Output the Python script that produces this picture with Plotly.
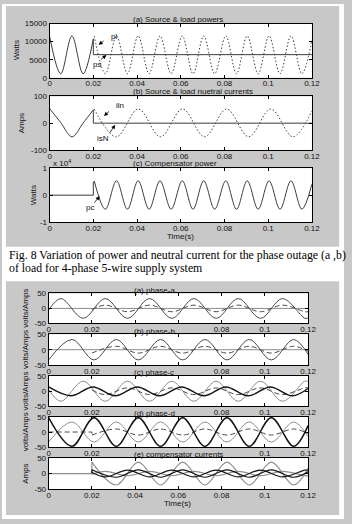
import plotly.graph_objects as go

W, H = 352, 524

# ---------------- shared ----------------
time_ticks = [0, 0.02, 0.04, 0.06, 0.08, 0.1, 0.12]
time_labels = ["0", "0.02", "0.04", "0.06", "0.08", "0.1", "0.12"]
# labels hidden under the next panel's title in the lower figure
time_labels_short = ["0", "0.02", "", "", "0.08", "0.1", "0.12"]
time_labels_shorter = ["0", "0.02", "", "", "", "0.1", "0.12"]

# ---------------- Fig. 8 data ----------------
# (a) source & load powers (Watts)
ps_t_before = [0.0, 0.0051, 0.0102, 0.0153, 0.0200]
ps_v_before = [11500, 1100, 11600, 1100, 10800]
ps_t_after = [0.0200, 0.0200, 0.1200]
ps_v_after = [10800, 6400, 6400]
pl_t = [0.0204, 0.0255, 0.0306, 0.0356, 0.0405, 0.0455, 0.0505, 0.0556, 0.0607, 0.0656,
        0.0705, 0.0755, 0.0806, 0.0855, 0.0904, 0.0954, 0.1004, 0.1054, 0.1104, 0.1154, 0.1200]
pl_v = [11600, 1100, 11600, 1100, 11600, 1100, 11600, 1100, 11600, 1100,
        11600, 1100, 11600, 1100, 11600, 1100, 11600, 1100, 11600, 1100, 10500]

# (b) source & load neutral currents (Amps)
isn_t_before = [0.0, 0.0051, 0.0103, 0.0153, 0.0200]
isn_v_before = [55, 2, -51, 0, 50]
isn_t_after = [0.0200, 0.0200, 0.1200]
isn_v_after = [50, 0, 0]
iln_t = [0.0204, 0.0305, 0.0406, 0.0507, 0.0608, 0.0709, 0.0810, 0.0911, 0.1012, 0.1113, 0.1200]
iln_v = [53, -51, 53, -51, 53, -51, 53, -51, 53, -51, 46]

# (c) compensator power (x 10^4 Watts)
pc_t_before = [0.0, 0.0200, 0.0200]
pc_v_before = [0.0, 0.0, 0.50]
pc_t = pl_t
pc_v = [0.53, -0.52, 0.53, -0.52, 0.53, -0.52, 0.53, -0.52, 0.53, -0.52,
        0.53, -0.52, 0.53, -0.52, 0.53, -0.52, 0.53, -0.52, 0.53, -0.52, 0.41]

# ---------------- Fig. 9 data (volts / Amps) ----------------
zero_t = [0.0, 0.12]
zero_v = [0, 0]

va_t = [0.0000, 0.0057, 0.0160, 0.0262, 0.0365, 0.0467, 0.0570, 0.0672, 0.0775, 0.0877,
        0.0980, 0.1082, 0.1185, 0.1200]
va_v = [-6, 33, -33, 33, -33, 33, -33, 33, -33, 33, -33, 33, -33, -32]
isa_t = [0.0200, 0.0262, 0.0365, 0.0467, 0.0570, 0.0672, 0.0775, 0.0877, 0.0980, 0.1082,
         0.1185, 0.1200]
isa_v = [-4, 11, -11, 11, -11, 11, -11, 11, -11, 11, -11, -11]

vb_t = [0.0000, 0.0108, 0.0210, 0.0313, 0.0415, 0.0518, 0.0620, 0.0723, 0.0825, 0.0928,
        0.1030, 0.1133, 0.1200]
vb_v = [-33, 33, -33, 33, -33, 33, -33, 33, -33, 33, -33, 33, -15]
isb_t = [0.0200, 0.0313, 0.0415, 0.0518, 0.0620, 0.0723, 0.0825, 0.0928, 0.1030, 0.1133, 0.1200]
isb_v = [-11, 11, -11, 11, -11, 11, -11, 11, -11, 11, -5]

vc_t = va_t
vc_v = [6, -33, 33, -33, 33, -33, 33, -33, 33, -33, 33, -33, 33, 32]
ilc_t = [0.0000, 0.0103, 0.0205, 0.0308, 0.0410, 0.0513, 0.0615, 0.0718, 0.0820, 0.0923,
         0.1025, 0.1128, 0.1200]
ilc_v = [14, -15, 14, -15, 14, -15, 14, -15, 14, -15, 14, -15, 9]
isc_t = isa_t
isc_v = [4, -11, 11, -11, 11, -11, 11, -11, 11, -11, 11, 11]

vd_t = vb_t
vd_v = [-33, 33, -33, 33, -33, 33, -33, 33, -33, 33, -33, 33, -15]
ild_t = vb_t
ild_v = [47, -47, 47, -47, 47, -47, 47, -47, 47, -47, 47, -47, 21]
isd_t_before = [0.0, 0.0200, 0.0200]
isd_v_before = [0, 0, -10]
isd_t = isb_t
isd_v = [-10, 10, -10, 10, -10, 10, -10, 10, -10, 10, -5]

# (e) compensator currents
ec_t_before = [0.0, 0.0200]
ec_v_before = [0, 0]
e1_t = isb_t
e1_v = [37, -37, 37, -37, 37, -37, 37, -37, 37, -37, 17]
e2_t = isb_t
e2_v = [12, -12, 12, -12, 12, -12, 12, -12, 12, -12, 6]
e3_t = isa_t
e3_v = [4, -11, 11, -11, 11, -11, 11, -11, 11, -11, 11, 11]
e4_t = isa_t
e4_v = [-3, 7, -7, 7, -7, 7, -7, 7, -7, 7, -7, -7]

# ---------------- layout geometry (pixels) ----------------
F1X = (49, 319)
F1Y = [(20, 75), (94, 148.5), (167, 222)]
F2X = (48, 315)
F2Y = [(294.5, 325), (336, 367.5), (378.5, 409.5), (420, 451), (462, 493.5)]

SANS = "Liberation Sans, Arial, Helvetica, sans-serif"
SERIF = "Liberation Serif, Times New Roman, serif"
GRAY_BG = "#c8c8c8"

fig = go.Figure()


def fx(x):
    return x / W


def fy(y):
    return 1 - y / H


def ax_name(i, letter):
    return letter if i == 1 else f"{letter}{i}"


def add_line(i, t, v, color, width=1.0, dash="solid", spline=True):
    fig.add_trace(go.Scatter(
        x=t, y=v, mode="lines",
        line=dict(color=color, width=width, dash=dash,
                  shape="spline" if spline else "linear", smoothing=1.0),
        xaxis=ax_name(i, "x"), yaxis=ax_name(i, "y"),
        hoverinfo="skip", showlegend=False))


axis_common = dict(showline=True, linecolor="black", linewidth=1, mirror="ticks",
                   ticks="inside", ticklen=3, tickcolor="black", tickwidth=1,
                   showgrid=False, zeroline=False, fixedrange=True,
                   tickfont=dict(family=SANS, size=8, color="#111"))

panels = []
panels.append((F1X, F1Y[0], [0, 15000], [0, 5000, 10000, 15000], ["0", "5000", "10000", "15000"], time_labels))
panels.append((F1X, F1Y[1], [-100, 100], [-100, 0, 100], ["-100", "0", "100"], time_labels))
panels.append((F1X, F1Y[2], [-1, 1], [-1, 0, 1], ["-1", "0", "1"], time_labels))
f2_xlabels = [time_labels_short, time_labels_short, time_labels_short, time_labels_shorter, time_labels]
for yy, xl in zip(F2Y, f2_xlabels):
    panels.append((F2X, yy, [-50, 50], [-50, 0, 50], ["-50", "0", "50"], xl))

layout_axes = {}
for i, (xd, yd, yr, tv, tt, xl) in enumerate(panels, start=1):
    xk = "xaxis" if i == 1 else f"xaxis{i}"
    yk = "yaxis" if i == 1 else f"yaxis{i}"
    layout_axes[xk] = dict(domain=[fx(xd[0]), fx(xd[1])], range=[0, 0.12],
                           tickvals=time_ticks, ticktext=xl, ticklabelstandoff=-2,
                           anchor=ax_name(i, "y"), **axis_common)
    layout_axes[yk] = dict(domain=[fy(yd[1]), fy(yd[0])], range=yr,
                           tickvals=tv, ticktext=tt,
                           anchor=ax_name(i, "x"), **axis_common)

# ---------------- traces: Fig. 8 ----------------
C1 = "#3c3c3c"
add_line(1, ps_t_before, ps_v_before, C1)
add_line(1, ps_t_after, ps_v_after, C1, spline=False)
add_line(1, pl_t, pl_v, C1, dash="1.5px,2px")

add_line(2, isn_t_before, isn_v_before, C1)
add_line(2, isn_t_after, isn_v_after, C1, spline=False)
add_line(2, iln_t, iln_v, C1, dash="1.5px,2px")

add_line(3, pc_t_before, pc_v_before, C1, spline=False)
add_line(3, pc_t, pc_v, C1)

# ---------------- traces: Fig. 9 ----------------
VOLT = "#4a4a4a"
ZERO = "#8c8c8c"
DASH = "#4a4a4a"
DARK = "#151515"
LIGHT = "#8e8e8e"
DSH = "5px,3px"

add_line(4, zero_t, zero_v, ZERO, spline=False)
add_line(4, va_t, va_v, VOLT)
add_line(4, isa_t, isa_v, DASH, dash=DSH)

add_line(5, zero_t, zero_v, ZERO, spline=False)
add_line(5, vb_t, vb_v, VOLT)
add_line(5, isb_t, isb_v, DASH, dash=DSH)

add_line(6, vc_t, vc_v, LIGHT)
add_line(6, isc_t, isc_v, DASH, dash=DSH)
add_line(6, ilc_t, ilc_v, DARK, width=1.4)

add_line(7, vd_t, vd_v, LIGHT)
add_line(7, isd_t_before, isd_v_before, DASH, dash=DSH, spline=False)
add_line(7, isd_t, isd_v, DASH, dash=DSH)
add_line(7, ild_t, ild_v, DARK, width=1.5)

add_line(8, ec_t_before, ec_v_before, LIGHT, width=1.2, spline=False)
add_line(8, [e1_t[0], e1_t[0]], [0, e1_v[0]], LIGHT, width=1.2, spline=False)
add_line(8, e1_t, e1_v, LIGHT, width=1.2)
add_line(8, e4_t, e4_v, LIGHT, width=1.2)
add_line(8, [e2_t[0], e2_t[0]], [0, e2_v[0]], DARK, width=1.2, spline=False)
add_line(8, e2_t, e2_v, DARK, width=1.2)
add_line(8, e3_t, e3_v, DARK, width=1.2)

# ---------------- annotations ----------------
ann = []


def text(x, y, s, size=8, anchor="left", family=SANS, angle=0, color="#111"):
    ann.append(dict(x=fx(x), y=fy(y), xref="paper", yref="paper", text=s,
                    showarrow=False, xanchor=anchor, yanchor="middle",
                    textangle=angle, font=dict(family=family, size=size, color=color)))


def arrow(tx, ty, hx, hy):
    ann.append(dict(x=fx(hx), y=fy(hy), xref="paper", yref="paper", text="",
                    showarrow=True, ax=tx - hx, ay=ty - hy, axref="pixel", ayref="pixel",
                    arrowhead=2, arrowsize=1, arrowwidth=0.8, arrowcolor="black",
                    standoff=0, startstandoff=0, font=dict(size=8)))


# Fig. 8 titles / labels
text(133, 16, "(a) Source &amp; load powers")
text(133, 89.5, "(b) Source &amp; load nuetral currents")
text(133, 162, "(c) Compensator power")
text(50, 162, "x 10<sup>4</sup>")
text(15, 47.5, "Watts", anchor="center", angle=-90)
text(21, 121, "Amps", anchor="center", angle=-90)
text(32, 194.5, "Watts", anchor="center", angle=-90)
text(184, 237, "Time(s)", anchor="center")

text(110, 33, "pl")
arrow(106, 36.5, 99.5, 41.5)
text(91.5, 61.5, "ps")
arrow(100.5, 57.5, 107.5, 52)
text(115.5, 103.5, "iln")
arrow(111.5, 108, 105, 114)
text(96, 137, "isN")
arrow(110, 132.5, 116.5, 123)
text(84, 207.5, "pc")
arrow(94, 203.5, 100.5, 195.5)

# Fig. 8 caption
text(5, 255.5, "Fig. 8 Variation of power and neutral current for the phase outage (a ,b)",
     size=11.8, family=SERIF, color="black")
text(5, 268.5, "of load for 4-phase 5-wire supply system", size=11.8, family=SERIF, color="black")

# Fig. 9 titles / labels
f2_titles = ["(a) phase-a", "(b) phase-b", "(c) phase-c", "(d) phase-d", "(e) compensator currents"]
f2_title_y = [291.5, 333, 374.5, 416.5, 458.5]
for s, y in zip(f2_titles, f2_title_y):
    text(134, y, s)
for (y0, y1) in F2Y[:4]:
    text(24, (y0 + y1) / 2, "volts/Amps", anchor="center", angle=-90)
text(24, (F2Y[4][0] + F2Y[4][1]) / 2, "Amps", anchor="center", angle=-90)
text(181, 508, "Time(s)", anchor="center")

# ---------------- background shapes ----------------
shapes = []
for (x0, y0, x1, y1) in [(0, 0, W, 2), (0, 0, 4, H), (347, 0, W, H),
                         (0, 247, W, 282), (0, 520, W, H)]:
    shapes.append(dict(type="rect", xref="paper", yref="paper",
                       x0=fx(x0), x1=fx(x1), y0=fy(y1), y1=fy(y0),
                       fillcolor="white", line=dict(width=0), layer="below"))

fig.update_layout(
    width=W, height=H, margin=dict(l=0, r=0, t=0, b=0),
    paper_bgcolor=GRAY_BG, plot_bgcolor="white",
    showlegend=False, hovermode=False,
    annotations=ann, shapes=shapes,
    **layout_axes)

fig.write_html("out.html", config={"staticPlot": True, "displayModeBar": False})
